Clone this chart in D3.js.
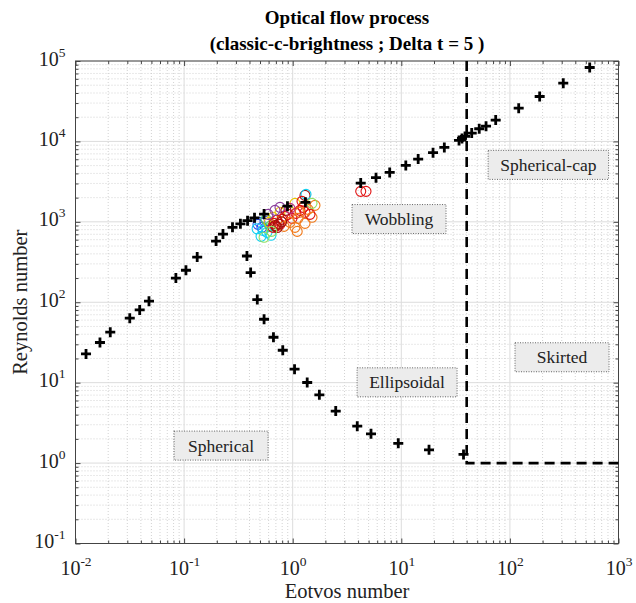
<!DOCTYPE html>
<html>
<head>
<meta charset="utf-8">
<script src="https://cdn.jsdelivr.net/npm/d3@7"></script>
<style>
body { margin: 0; background: #fff; }
text { font-family: "Liberation Serif", "DejaVu Serif", serif; }
</style>
</head>
<body>
<div id="chart"></div>
<script>
// spherical -> wobbling branch (black +)
const branchEo = [0.0125, 0.0168, 0.0209, 0.0316, 0.039, 0.0475, 0.084, 0.104, 0.132, 0.197, 0.228, 0.279, 0.330, 0.384, 0.445, 0.545, 0.895, 1.31];
const branchRe = [22.8, 31.6, 42.4, 63.3, 80.2, 103, 200, 250, 365, 577, 705, 855, 945, 1035, 1122, 1250, 1567, 1747];
// ellipsoidal branch going down
const ellipEo = [0.379, 0.410, 0.472, 0.545, 0.665, 0.81, 1.04, 1.36, 1.76, 2.49, 3.93, 5.26, 9.38, 18.0, 37.4];
const ellipRe = [376, 234, 108, 61.5, 36.7, 25.3, 14.7, 10.05, 7.05, 4.43, 2.88, 2.31, 1.76, 1.46, 1.28];
// wobbling -> spherical-cap branch
const capEo = [4.23, 5.85, 7.82, 11.0, 14.3, 19.6, 24.9, 34.0, 36.2, 38.6, 44.5, 52.2, 60.3, 74.0, 120.5, 188, 310, 543];
const capRe = [3034, 3540, 4120, 5035, 6030, 7240, 8420, 10290, 10900, 11540, 12680, 14380, 15490, 18400, 25900, 36200, 53000, 83000];

// measured bubbles (open circles)
const bubbleEo = [0.479, 0.500, 0.521, 0.556, 0.533, 0.511, 0.631, 0.580, 0.568, 0.618, 0.545, 0.659, 0.605, 0.764, 1.05,
  0.673, 0.716, 0.764, 0.659, 0.701, 0.797, 0.849, 0.906, 1.072, 1.167, 1.244, 1.298, 0.985,
  0.944, 1.05, 1.167, 1.298, 1.506, 1.604, 1.119, 1.383, 0.832,
  0.687, 0.764, 1.298, 1.326, 1.506, 0.867, 1.218, 0.944, 0.592, 1.443,
  0.690, 0.740, 0.790, 0.720, 0.470, 0.640, 1.10, 4.23, 4.73];
const bubbleRe = [931, 986, 854, 1015, 784, 660, 680, 740, 1074, 879, 642, 1138, 986, 1313, 1698,
  958, 1045, 931, 854, 879, 1074, 1170, 1239, 1275, 1390, 1514, 1313, 1105,
  986, 854, 1313, 958, 1138, 1603, 1105, 1430, 879,
  1390, 1514, 2133, 2196, 1698, 1390, 1797, 1472, 1239, 1239,
  900, 940, 1000, 850, 820, 760, 760, 2393, 2393];
const bubbleColor = ["blue", "blue", "blue", "blue", "cyan", "cyan", "cyan", "cyan", "green", "green", "lightgreen", "yellow", "yellow", "yellow", "yellow",
  "red", "red", "red", "red", "red", "red", "red", "red", "red", "red", "red", "red", "red",
  "orange", "orange", "orange", "orange", "orange", "orange", "orange", "orange", "orange",
  "purple", "purple", "darkred", "cyan", "lightgreen", "darkred", "red", "magenta", "purple", "red",
  "darkred", "darkred", "darkred", "darkred", "cyan", "lightgreen", "orange", "red", "red"];

// regime boundary (dashed)
const boundaryEo = [40, 40, 1000];
const boundaryRe = [1e5, 1, 1];

// regime labels
const regimeNames = ["Spherical", "Ellipsoidal", "Wobbling", "Spherical-cap", "Skirted"];
const regimeEo = [0.219, 11.3, 9.53, 226, 302];
const regimeRe = [1.65, 10.1, 1083, 5106, 20.7];

const xTicks = [1e-2, 1e-1, 1e0, 1e1, 1e2, 1e3];
const yTicks = [1e-1, 1e0, 1e1, 1e2, 1e3, 1e4, 1e5];

const palette = {
  blue: "#2a50f0", cyan: "#10d0f0", green: "#40d060", lightgreen: "#90e060",
  yellow: "#e8c800", orange: "#f07818", red: "#e01010", darkred: "#a01010",
  purple: "#8a3c9a", magenta: "#c03080"
};

const W = 636, H = 603;
const pLeft = 75.5, pRight = 618.5, pTop = 61, pBottom = 543.5;

const svg = d3.select('#chart').append('svg').attr('width', W).attr('height', H);

const x = d3.scaleLog().domain([1e-2, 1e3]).range([pLeft, pRight]);
const y = d3.scaleLog().domain([1e-1, 1e5]).range([pBottom, pTop]);

// minor tick values
function minors(dom) {
  let out = [];
  for (let e = Math.log10(dom[0]); e < Math.log10(dom[1]); e++) {
    for (let k = 2; k <= 9; k++) out.push(k * Math.pow(10, e));
  }
  return out;
}
const xMinor = minors(x.domain());
const yMinor = minors(y.domain());

// grid
const grid = svg.append('g');
grid.selectAll('.gxm').data(xMinor).join('line')
  .attr('x1', d => x(d)).attr('x2', d => x(d)).attr('y1', pTop).attr('y2', pBottom)
  .attr('stroke', '#c8c8c8').attr('stroke-width', 0.8).attr('stroke-dasharray', '1,2');
grid.selectAll('.gym').data(yMinor).join('line')
  .attr('y1', d => y(d)).attr('y2', d => y(d)).attr('x1', pLeft).attr('x2', pRight)
  .attr('stroke', '#c8c8c8').attr('stroke-width', 0.8).attr('stroke-dasharray', '1,2');
grid.selectAll('.gx').data(xTicks).join('line')
  .attr('x1', d => x(d)).attr('x2', d => x(d)).attr('y1', pTop).attr('y2', pBottom)
  .attr('stroke', '#dcdcdc').attr('stroke-width', 1);
grid.selectAll('.gy').data(yTicks).join('line')
  .attr('y1', d => y(d)).attr('y2', d => y(d)).attr('x1', pLeft).attr('x2', pRight)
  .attr('stroke', '#dcdcdc').attr('stroke-width', 1);

// superscript labels
function powLabel(sel) {
  sel.each(function (d) {
    const t = d3.select(this);
    const e = Math.round(Math.log10(d));
    t.text(null);
    t.append('tspan').text('10');
    t.append('tspan').text(e).attr('dy', -9).attr('font-size', 13.5);
  });
}

// axes
const gx = svg.append('g').attr('transform', `translate(0,${pBottom})`)
  .call(d3.axisBottom(x).tickValues(xTicks).tickSizeInner(-5).tickSizeOuter(0).tickPadding(0));
gx.select('.domain').remove();
gx.selectAll('.tick line').attr('stroke', '#444');
gx.selectAll('.tick text').attr('y', 31).attr('dy', 0).attr('font-size', 20).attr('fill', '#222').call(powLabel);

const gxm = svg.append('g').attr('transform', `translate(0,${pBottom})`)
  .call(d3.axisBottom(x).tickValues(xMinor).tickSizeInner(-3).tickSizeOuter(0).tickFormat(''));
gxm.select('.domain').remove();
gxm.selectAll('.tick line').attr('stroke', '#444');

const gxt = svg.append('g').attr('transform', `translate(0,${pTop})`)
  .call(d3.axisTop(x).tickValues(xTicks).tickSizeInner(-5).tickSizeOuter(0).tickFormat(''));
const gxtm = svg.append('g').attr('transform', `translate(0,${pTop})`)
  .call(d3.axisTop(x).tickValues(xMinor).tickSizeInner(-3).tickSizeOuter(0).tickFormat(''));

const gy = svg.append('g').attr('transform', `translate(${pLeft},0)`)
  .call(d3.axisLeft(y).tickValues(yTicks).tickSizeInner(-5).tickSizeOuter(0).tickPadding(0));
gy.select('.domain').remove();
gy.selectAll('.tick line').attr('stroke', '#444');
gy.selectAll('.tick text').attr('x', -10).attr('dy', 4).attr('font-size', 20).attr('fill', '#222').call(powLabel);

const gym = svg.append('g').attr('transform', `translate(${pLeft},0)`)
  .call(d3.axisLeft(y).tickValues(yMinor).tickSizeInner(-3).tickSizeOuter(0).tickFormat(''));
const gyr = svg.append('g').attr('transform', `translate(${pRight},0)`)
  .call(d3.axisRight(y).tickValues(yTicks).tickSizeInner(-5).tickSizeOuter(0).tickFormat(''));
const gyrm = svg.append('g').attr('transform', `translate(${pRight},0)`)
  .call(d3.axisRight(y).tickValues(yMinor).tickSizeInner(-3).tickSizeOuter(0).tickFormat(''));
[gxt, gxtm, gym, gyr, gyrm].forEach(g => {
  g.select('.domain').remove();
  g.selectAll('.tick line').attr('stroke', '#444');
});

// box
svg.append('rect').attr('x', pLeft).attr('y', pTop)
  .attr('width', pRight - pLeft).attr('height', pBottom - pTop)
  .attr('fill', 'none').attr('stroke', '#444').attr('stroke-width', 1);

// regime boundary
const line = d3.line().x(d => x(d[0])).y(d => y(d[1]));
svg.append('path')
  .datum(boundaryEo.map((e, i) => [e, boundaryRe[i]]))
  .attr('d', line)
  .attr('fill', 'none').attr('stroke', '#000').attr('stroke-width', 2.6)
  .attr('stroke-dasharray', '10,6');

// bubbles
svg.append('g').selectAll('circle')
  .data(bubbleEo.map((e, i) => ({ eo: e, re: bubbleRe[i], c: bubbleColor[i] })))
  .join('circle')
  .attr('cx', d => x(d.eo)).attr('cy', d => y(d.re)).attr('r', 5)
  .attr('fill', 'none').attr('stroke', d => palette[d.c]).attr('stroke-width', 1.1);

// crosses
const crossPts = [];
branchEo.forEach((e, i) => crossPts.push([e, branchRe[i]]));
ellipEo.forEach((e, i) => crossPts.push([e, ellipRe[i]]));
capEo.forEach((e, i) => crossPts.push([e, capRe[i]]));
svg.append('g').selectAll('path')
  .data(crossPts)
  .join('path')
  .attr('transform', d => `translate(${x(d[0])},${y(d[1])})`)
  .attr('d', 'M-5,0H5M0,-5V5')
  .attr('stroke', '#000').attr('stroke-width', 2.8);

// regime labels with boxes
const lab = svg.append('g').selectAll('g')
  .data(regimeNames.map((n, i) => ({ name: n, eo: regimeEo[i], re: regimeRe[i] })))
  .join('g')
  .attr('transform', d => `translate(${x(d.eo)},${y(d.re)})`);
lab.append('rect');
lab.append('text')
  .attr('text-anchor', 'middle').attr('dy', 6)
  .attr('font-size', 17.5).attr('fill', '#222')
  .text(d => d.name);
lab.each(function () {
  const g = d3.select(this);
  const bb = g.select('text').node().getBBox();
  const w = Math.max(bb.width + 24, 94);
  g.select('rect')
    .attr('x', -w / 2).attr('y', -14.5)
    .attr('width', w).attr('height', 29)
    .attr('fill', '#ececec').attr('stroke', '#555')
    .attr('stroke-width', 0.9).attr('stroke-dasharray', '1,1.5');
});

// titles
svg.append('text').attr('x', (pLeft + pRight) / 2).attr('y', 24)
  .attr('text-anchor', 'middle').attr('font-size', 19).attr('font-weight', 'bold')
  .text('Optical flow process');
svg.append('text').attr('x', (pLeft + pRight) / 2).attr('y', 50)
  .attr('text-anchor', 'middle').attr('font-size', 19).attr('font-weight', 'bold')
  .text('(classic-c-brightness ; Delta t = 5 )');

svg.append('text').attr('x', (pLeft + pRight) / 2).attr('y', 598)
  .attr('text-anchor', 'middle').attr('font-size', 20.5).attr('fill', '#222')
  .text('Eotvos number');
svg.append('text')
  .attr('transform', `translate(27,${(pTop + pBottom) / 2}) rotate(-90)`)
  .attr('text-anchor', 'middle').attr('font-size', 20.5).attr('fill', '#222')
  .text('Reynolds number');
</script>
</body>
</html>
